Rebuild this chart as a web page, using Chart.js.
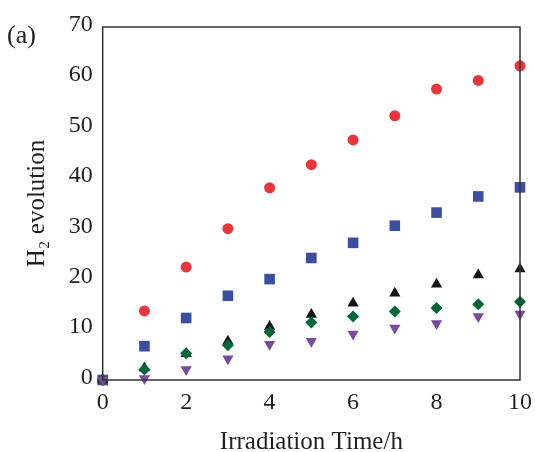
<!DOCTYPE html>
<html lang="en">
<head>
  <meta charset="UTF-8" />
  <title>H2 evolution</title>
  <script src="https://cdn.jsdelivr.net/npm/chart.js@4.4.1/dist/chart.umd.min.js"></script>
  <style>
    * { box-sizing: border-box; margin: 0; padding: 0; }
    html, body { width: 535px; height: 452px; background: #fff; overflow: hidden; }
    .wrap { position: relative; width: 535px; height: 452px; }
    .panel {
      position: absolute;
      left: 7px;
      top: 22px;
      font-family: "Liberation Serif", "Times New Roman", serif;
      font-size: 26px;
      line-height: 26px;
      color: #231f20;
    }
  </style>
</head>
<body>
  <div class="wrap">
    <canvas id="h2Chart" width="535" height="452"></canvas>
    <div class="panel">(a)</div>
  </div>

  <script>
    // Bestrahlungszeit (h)
    const hours = [0, 1, 2, 3, 4, 5, 6, 7, 8, 9, 10];

    // H2-Entwicklung je Probe
    const redCircles   = [0, 13.7, 22.4, 30.0, 38.1, 42.7, 47.6, 52.4, 57.7, 59.4, 62.3];
    const blueSquares  = [0, 6.7, 12.3, 16.7, 20.0, 24.2, 27.2, 30.6, 33.2, 36.4, 38.2];
    const blackTris    = [0, 2.4, 5.2, 7.7, 10.6, 13.0, 15.2, 17.2, 19.0, 20.8, 22.0];
    const greenDiamond = [0, 2.1, 5.3, 6.9, 9.5, 11.4, 12.6, 13.6, 14.3, 15.0, 15.5];
    const purpleTris   = [0, 0.3, 2.1, 4.2, 7.1, 7.7, 9.1, 10.3, 11.2, 12.6, 13.1];

    const xTicks = [0, 2, 4, 6, 8, 10];
    const yTicks = [0, 10, 20, 30, 40, 50, 60, 70];

    const serif = '"Liberation Serif", "Times New Roman", serif';
    const toPoints = (ys) => hours.map((h, i) => ({ x: h, y: ys[i] }));

    // Rahmen um die Plotfläche (alle vier Seiten)
    const frame = {
      id: 'frame',
      afterDraw(chart) {
        const { ctx, chartArea: a } = chart;
        ctx.save();
        ctx.strokeStyle = '#333';
        ctx.lineWidth = 1.5;
        ctx.strokeRect(a.left, a.top, a.right - a.left, a.bottom - a.top);
        ctx.restore();
      }
    };

    // Reihenfolge: erstes Dataset liegt oben
    const series = [
      { data: purpleTris,   color: '#7b4a9e', style: 'triangle', radius: 6.5, rotation: 180 },
      { data: greenDiamond, color: '#006838', style: 'rectRot',  radius: 6 },
      { data: blackTris,    color: '#151515', style: 'triangle', radius: 6.5 },
      { data: blueSquares,  color: '#3c4ea0', style: 'rect',     radius: 7.5 },
      { data: redCircles,   color: '#e8363c', style: 'circle',   radius: 5.5 }
    ];

    new Chart(document.getElementById('h2Chart'), {
      type: 'scatter',
      data: {
        datasets: series.map(s => ({
          data: toPoints(s.data),
          pointStyle: s.style,
          pointRadius: s.radius,
          pointRotation: s.rotation || 0,
          backgroundColor: s.color,
          borderColor: s.color,
          borderWidth: 0,
          clip: false
        }))
      },
      options: {
        responsive: false,
        animation: false,
        layout: { padding: { top: 27, right: 15, left: 0, bottom: 0 } },
        plugins: { legend: { display: false }, tooltip: { enabled: false } },
        scales: {
          x: {
            type: 'linear',
            min: 0,
            max: 10,
            afterBuildTicks: (scale) => { scale.ticks = xTicks.map(v => ({ value: v })); },
            afterFit: (scale) => {
              scale.height = 72;
              scale.paddingLeft = 0;
              scale.paddingRight = 0;
            },
            grid: { display: false, drawTicks: false },
            border: { display: false },
            ticks: { color: '#231f20', font: { family: serif, size: 24 }, padding: 8 },
            title: {
              display: true,
              text: 'Irradiation Time/h',
              color: '#231f20',
              font: { family: serif, size: 25, lineHeight: 1 },
              padding: { top: 0, bottom: -3 }
            }
          },
          y: {
            type: 'linear',
            min: 0,
            max: 70,
            afterBuildTicks: (scale) => { scale.ticks = yTicks.map(v => ({ value: v })); },
            afterFit: (scale) => {
              scale.width = 102.7;
              scale.paddingTop = 0;
              scale.paddingBottom = 0;
            },
            grid: { display: false, drawTicks: false },
            border: { display: false },
            ticks: { color: '#231f20', font: { family: serif, size: 24 }, padding: 10, labelOffset: -2.5 },
            title: {
              display: true,
              text: 'H₂ evolution',
              color: '#231f20',
              font: { family: serif, size: 25, lineHeight: 1 },
              padding: { top: 25, bottom: 0 }
            }
          }
        }
      },
      plugins: [frame]
    });
  </script>
</body>
</html>
